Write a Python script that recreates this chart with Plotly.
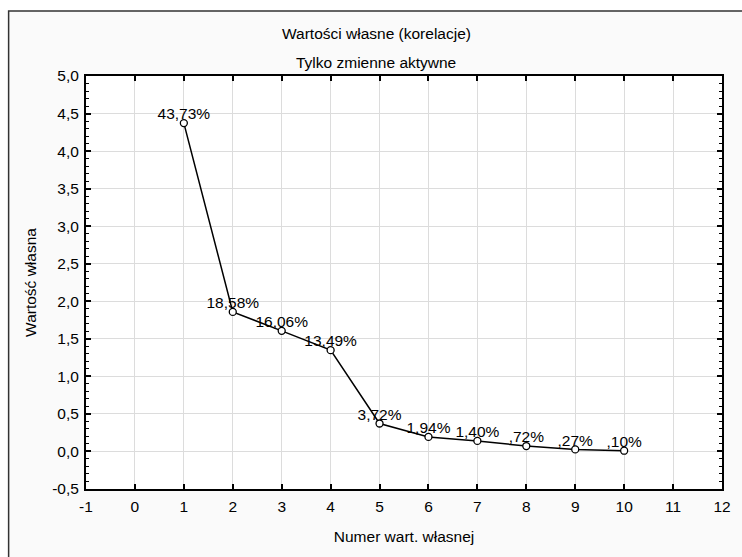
import plotly.graph_objects as go

# ---- data ----
eig_numbers = [1, 2, 3, 4, 5, 6, 7, 8, 9, 10]
eig_values = [4.373, 1.858, 1.606, 1.349, 0.372, 0.194, 0.140, 0.072, 0.027, 0.010]
pct_labels = ["43,73%", "18,58%", "16,06%", "13,49%", "3,72%", "1,94%", "1,40%", ",72%", ",27%", ",10%"]

x_tick_vals = list(range(-1, 13))
x_tick_text = [str(v) for v in x_tick_vals]
y_tick_vals = [-0.5, 0.0, 0.5, 1.0, 1.5, 2.0, 2.5, 3.0, 3.5, 4.0, 4.5, 5.0]
y_tick_text = ["-0,5", "0,0", "0,5", "1,0", "1,5", "2,0", "2,5", "3,0", "3,5", "4,0", "4,5", "5,0"]

title_line1 = "Wartości własne (korelacje)"
title_line2 = "Tylko zmienne aktywne"
x_title = "Numer wart. własnej"
y_title = "Wartość własna"

# ---- layout geometry (pixels) ----
W, H = 742, 557
L, R, T, B = 85.5, 19.5, 76, 68
pw, ph = W - L - R, H - T - B

def px_x(p):
    return (p - L) / pw

def px_y(p):
    return (H - B - p) / ph

FONT = "Liberation Sans, Arial, sans-serif"

fig = go.Figure()
fig.add_trace(go.Scatter(
    x=eig_numbers, y=eig_values,
    mode="lines+markers",
    line=dict(color="black", width=1.5),
    marker=dict(symbol="circle", size=7, color="white",
                line=dict(color="black", width=1.3)),
    cliponaxis=False,
    showlegend=False,
    hoverinfo="skip",
))
fig.add_trace(go.Scatter(
    x=eig_numbers, y=eig_values, text=pct_labels,
    mode="text",
    textposition="top center",
    textfont=dict(family=FONT, size=15.5, color="black"),
    cliponaxis=False,
    showlegend=False,
))

axis_common = dict(
    showline=True, linecolor="black", linewidth=2, mirror="ticks",
    ticks="inside", ticklen=5, tickwidth=1.5, tickcolor="black",
    showgrid=True, gridcolor="#dcdcdc", gridwidth=1,
    zeroline=False,
    tickfont=dict(family=FONT, size=15.5, color="black"),
    title_font=dict(family=FONT, size=15.5, color="black"),
)

fig.update_xaxes(
    range=[-1, 12], tickmode="array", tickvals=x_tick_vals, ticktext=x_tick_text,
    title_text=x_title, title_standoff=18, ticklabelstandoff=2,
    **axis_common,
)
fig.update_yaxes(
    range=[-0.5, 5.0], tickmode="array", tickvals=y_tick_vals, ticktext=y_tick_text,
    title_text=y_title, title_standoff=12, ticklabelstandoff=2,
    minor=dict(dtick=0.1, tick0=0, ticks="inside", ticklen=3, tickwidth=1,
               tickcolor="black", showgrid=False),
    **axis_common,
)

# outer frame (light gray panel) and white plot area
fig.add_shape(type="rect", xref="paper", yref="paper",
              x0=px_x(8), x1=px_x(W + 10), y0=px_y(H + 10), y1=px_y(11),
              fillcolor="#fafafa", line=dict(color="#333333", width=1.5),
              layer="below")
fig.add_shape(type="rect", xref="paper", yref="paper",
              x0=0, x1=1, y0=0, y1=1,
              fillcolor="white", line=dict(width=0), layer="below")

fig.add_annotation(text=title_line1, xref="paper", yref="paper",
                   x=px_x(376), y=px_y(33), xanchor="center", yanchor="middle",
                   showarrow=False, font=dict(family=FONT, size=15.5, color="black"))
fig.add_annotation(text=title_line2, xref="paper", yref="paper",
                   x=px_x(376), y=px_y(62), xanchor="center", yanchor="middle",
                   showarrow=False, font=dict(family=FONT, size=15.5, color="black"))

fig.update_layout(
    width=W, height=H,
    margin=dict(l=L, r=R, t=T, b=B, autoexpand=False),
    paper_bgcolor="white", plot_bgcolor="white",
    font=dict(family=FONT, size=15.5, color="black"),
)

fig.write_html("out.html")
